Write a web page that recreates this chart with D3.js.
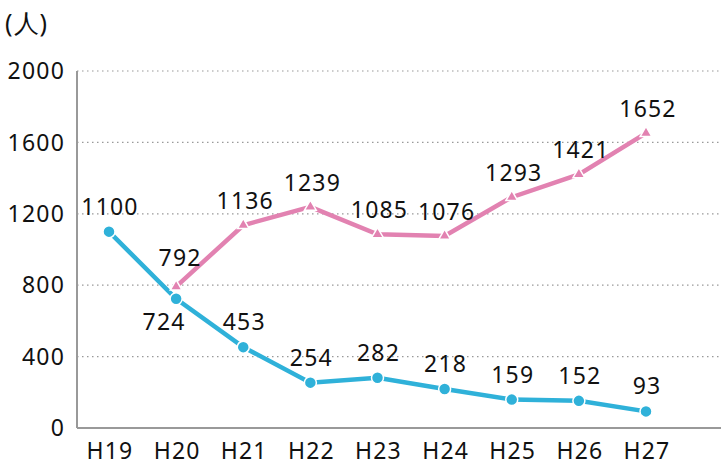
<!DOCTYPE html>
<html>
<head>
<meta charset="utf-8">
<script src="https://cdn.jsdelivr.net/npm/d3@7"></script>
<style>
  body { margin: 0; background: #fff; }
  text { font-family: "Noto Sans", "Open Sans", sans-serif; fill: #111; letter-spacing: 1.2px; }
</style>
</head>
<body>
<div id="chart"></div>
<script>
const years = ["H19", "H20", "H21", "H22", "H23", "H24", "H25", "H26", "H27"];
const blueValues = [1100, 724, 453, 254, 282, 218, 159, 152, 93];
const pinkYears = ["H20", "H21", "H22", "H23", "H24", "H25", "H26", "H27"];
const pinkValues = [792, 1136, 1239, 1085, 1076, 1293, 1421, 1652];
const yTicks = [0, 400, 800, 1200, 1600, 2000];

const width = 721, height = 465;
const axisLeft = 77, axisRight = 721;
const fs = 23;

const x = d3.scalePoint().domain(years).range([109, 646]);
const y = d3.scaleLinear().domain([0, 2000]).range([428, 71]);

const svg = d3.select("#chart").append("svg")
  .attr("width", width).attr("height", height);

// grid
svg.selectAll(".grid").data(yTicks.filter(d => d > 0)).enter()
  .append("line")
  .attr("x1", axisLeft).attr("x2", axisRight)
  .attr("y1", d => y(d)).attr("y2", d => y(d))
  .attr("stroke", "#999").attr("stroke-width", 1.2)
  .attr("stroke-dasharray", "1.5,3.5");

// axes lines
svg.append("line").attr("x1", axisLeft).attr("x2", axisLeft)
  .attr("y1", y(2000)).attr("y2", y(0))
  .attr("stroke", "#999").attr("stroke-width", 2);
svg.append("line").attr("x1", axisLeft).attr("x2", axisRight)
  .attr("y1", y(0)).attr("y2", y(0))
  .attr("stroke", "#999").attr("stroke-width", 2);

// y tick labels
svg.selectAll(".ytick").data(yTicks).enter()
  .append("text")
  .attr("x", 65).attr("y", d => y(d))
  .attr("dy", "0.36em")
  .attr("text-anchor", "end")
  .attr("font-size", fs)
  .text(d => d);

// x tick labels
svg.selectAll(".xtick").data(years).enter()
  .append("text")
  .attr("x", d => x(d) + 1).attr("y", 459)
  .attr("text-anchor", "middle")
  .attr("font-size", fs)
  .text(d => d);

svg.append("text").attr("x", 5).attr("y", 23).attr("dy", "0.35em")
  .attr("font-size", 25).style("letter-spacing", "1px").text("(人)");

const blue = "#2fb1d9", pink = "#e282b1";
const blueData = years.map((d, i) => ({ k: d, v: blueValues[i] }));
const pinkData = pinkYears.map((d, i) => ({ k: d, v: pinkValues[i] }));

const line = d3.line().x(d => x(d.k)).y(d => y(d.v));

svg.append("path").datum(pinkData).attr("d", line)
  .attr("fill", "none").attr("stroke", pink).attr("stroke-width", 4.5);
svg.append("path").datum(blueData).attr("d", line)
  .attr("fill", "none").attr("stroke", blue).attr("stroke-width", 4.5);

svg.selectAll(".pm").data(pinkData).enter()
  .append("path")
  .attr("d", d3.symbol().type(d3.symbolTriangle).size(60))
  .attr("transform", d => `translate(${x(d.k)},${y(d.v)})`)
  .attr("fill", pink).attr("stroke", "#fff").attr("stroke-width", 1.5);

svg.selectAll(".bm").data(blueData).enter()
  .append("circle")
  .attr("cx", d => x(d.k)).attr("cy", d => y(d.v)).attr("r", 6)
  .attr("fill", blue).attr("stroke", "#fff").attr("stroke-width", 1.5);

// value labels
const blueOff = { "H20": [-13, 23] };
svg.selectAll(".bl").data(blueData).enter()
  .append("text")
  .attr("x", d => x(d.k) + 1 + (blueOff[d.k] ? blueOff[d.k][0] : 0))
  .attr("y", d => y(d.v) + (blueOff[d.k] ? blueOff[d.k][1] : -25))
  .attr("dy", "0.35em").attr("text-anchor", "middle")
  .attr("font-size", fs).text(d => d.v);

const pinkOff = { "H20": [3, -29] };
svg.selectAll(".pl").data(pinkData).enter()
  .append("text")
  .attr("x", d => x(d.k) + 1 + (pinkOff[d.k] ? pinkOff[d.k][0] : 1))
  .attr("y", d => y(d.v) + (pinkOff[d.k] ? pinkOff[d.k][1] : -24))
  .attr("dy", "0.35em").attr("text-anchor", "middle")
  .attr("font-size", fs).text(d => d.v);
</script>
</body>
</html>
